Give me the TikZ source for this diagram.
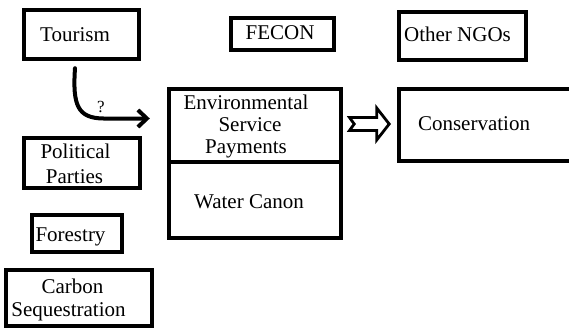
\documentclass[tikz,border=0pt]{standalone}
\usepackage{fontspec}
\setmainfont{Liberation Serif}
\usetikzlibrary{arrows.meta,calc}
\begin{document}
\begin{tikzpicture}[x=1pt,y=-1pt,
  box/.style={draw=black,line width=3.6pt,inner sep=0pt,outer sep=0pt},
  lbl/.style={anchor=base,inner sep=0pt,font=\fontsize{21}{23}\selectfont},
  qlbl/.style={anchor=base,inner sep=0pt,font=\fontsize{17}{19}\selectfont},
  curvearrow/.style={draw=black,line width=4pt,line cap=round,
    -{Straight Barb[length=9pt,width=17pt,line width=4pt]}},
  blockarrow/.style={draw=black,fill=white,line width=2.8pt,line join=miter}]
\useasboundingbox (0,0) rectangle (569,329);
\fill[white] (0,0) rectangle (569,329);
\begin{scope}
\clip (0,0) rectangle (569,329);
% boxes
\node[box,minimum width=115.4pt,minimum height=49.4pt] (tourism) at (81.5,34.5) {};
\node[box,minimum width=103.4pt,minimum height=32.4pt] (fecon) at (282.5,34) {};
\node[box,minimum width=127.4pt,minimum height=48.4pt] (ngos) at (462.5,36) {};
\node[box,minimum width=172.4pt,minimum height=73.4pt] (esp) at (255,125.5) {};
\node[box,minimum width=172.4pt,minimum height=76pt] (water) at (255,200.2) {};
\node[box,minimum width=184.4pt,minimum height=72.4pt] (cons) at (491,125) {};
\node[box,minimum width=116.4pt,minimum height=50.4pt] (pol) at (82,163) {};
\node[box,minimum width=90.4pt,minimum height=37.4pt] (forest) at (77,233.5) {};
\node[box,minimum width=146.4pt,minimum height=56.4pt] (carbon) at (79,298) {};
% texts
\node[lbl] (tourismT) at (75,41.7) {Tourism};
\node[lbl] (feconT) at (280,39.5) {FECON};
\node[lbl] (ngosT) at (457.5,41.7) {Other NGOs};
\node[lbl] (consT) at (474,130.7) {Conservation};
\node[lbl] (espA) at (246,109) {Environmental};
\node[lbl] (espB) at (250,131.5) {Service};
\node[lbl] (espC) at (246,153) {Payments};
\node[lbl] (waterT) at (249,208) {Water Canon};
\node[lbl] (polA) at (75.5,158.5) {Political};
\node[lbl] (polB) at (74.5,183) {Parties};
\node[lbl] (forestT) at (70.5,241.5) {Forestry};
\node[lbl] (carbA) at (72.5,293) {Carbon};
\node[lbl] (carbB) at (68.5,316) {Sequestration};
% curved arrow with question mark
\draw[curvearrow] ($(tourism.south)+(-6.5,9)$)
  .. controls ($(tourism.south)+(-9,46)$) and ($(tourism.south)+(-4,59)$) .. ($(tourism.south)+(22,59.3)$)
  -- ($(esp.west)+(-19,-7)$);
\node[qlbl] (qmark) at (101,112) {?};
% hollow block arrow
\begin{scope}[shift={(esp.east)}]
\draw[blockarrow] (8.3,-8) -- (35.5,-8) -- (35.5,-17.5) -- (48,-1.5) -- (35.5,14.5)
  -- (35.5,5) -- (8.3,5) -- (13,-1.5) -- cycle;
\end{scope}
\end{scope}
\end{tikzpicture}
\end{document}
